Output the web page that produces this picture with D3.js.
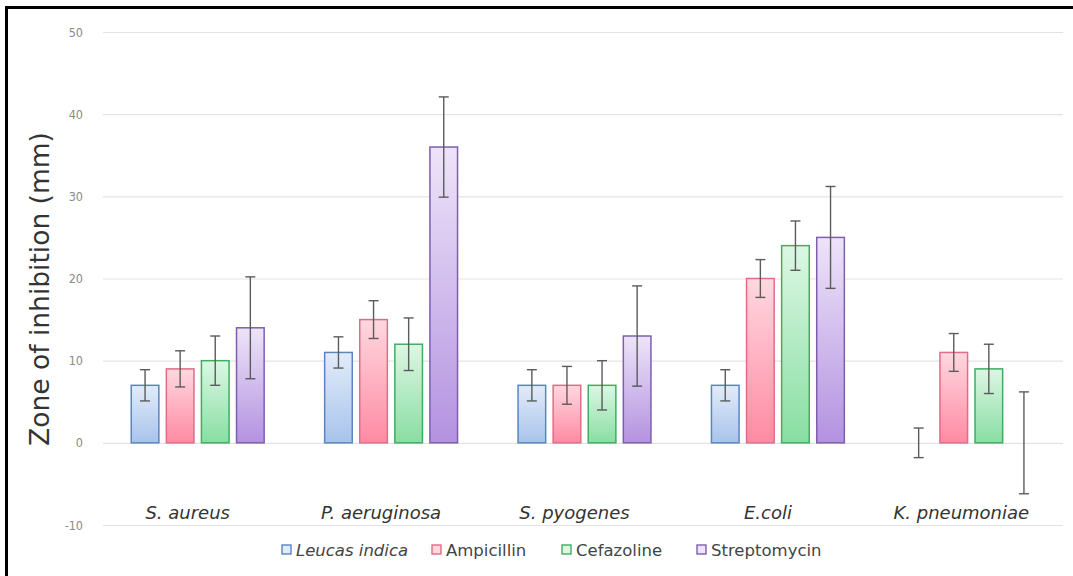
<!DOCTYPE html>
<html>
<head>
<meta charset="utf-8">
<script src="https://cdn.jsdelivr.net/npm/d3@7"></script>
<style>
  html, body { margin: 0; padding: 0; background: #fff; }
  svg { display: block; }
</style>
</head>
<body>
<svg id="chart" width="1073" height="576"></svg>
<script>
// Zone of inhibition by organism and treatment
const categories = ["S. aureus", "P. aeruginosa", "S. pyogenes", "E.coli", "K. pneumoniae"];
const seriesNames = ["Leucas indica", "Ampicillin", "Cefazoline", "Streptomycin"];
const leucasValues = [7, 11, 7, 7, 0];
const ampicillinValues = [9, 15, 7, 20, 11];
const cefazolineValues = [10, 12, 7, 24, 9];
const streptomycinValues = [14, 36, 13, 25, 0];
const leucasErrors = [1.9, 1.9, 1.9, 1.9, 1.8];
const ampicillinErrors = [2.2, 2.3, 2.3, 2.3, 2.3];
const cefazolineErrors = [3, 3.2, 3, 3, 3];
const streptomycinErrors = [6.2, 6.1, 6.1, 6.2, 6.2];
const yTicks = [-10, 0, 10, 20, 30, 40, 50];

const seriesValues = [leucasValues, ampicillinValues, cefazolineValues, streptomycinValues];
const seriesErrors = [leucasErrors, ampicillinErrors, cefazolineErrors, streptomycinErrors];

const fills = [
  { top: "#e2ecf9", bottom: "#a7c3ec", stroke: "#5a86c0" },
  { top: "#ffd8e0", bottom: "#ff8aa3", stroke: "#e26c87" },
  { top: "#dcf7e4", bottom: "#88dea2", stroke: "#3fae62" },
  { top: "#eee4f9", bottom: "#b392e0", stroke: "#7d5fae" }
];

const svg = d3.select("#chart");
const defs = svg.append("defs");
fills.forEach((f, i) => {
  const g = defs.append("linearGradient")
    .attr("id", "grad" + i).attr("x1", 0).attr("y1", 0).attr("x2", 0).attr("y2", 1);
  g.append("stop").attr("offset", "0%").attr("stop-color", f.top);
  g.append("stop").attr("offset", "100%").attr("stop-color", f.bottom);
});

// frame lines on the top and left
svg.append("line").attr("x1", 6).attr("x2", 1073).attr("y1", 7.5).attr("y2", 7.5)
  .attr("stroke", "#000").attr("stroke-width", 3);
svg.append("line").attr("x1", 6.5).attr("x2", 6.5).attr("y1", 6).attr("y2", 576)
  .attr("stroke", "#000").attr("stroke-width", 3);

const y = d3.scaleLinear().domain([-10, 50]).range([525, 32]);
const x0 = d3.scaleBand().domain(categories).range([101, 1068]).paddingInner(0.276).paddingOuter(0.138);
const x1 = d3.scaleBand().domain(seriesNames).range([0, x0.bandwidth()]).paddingInner(0.17).paddingOuter(0.08);

// gridlines and tick labels
const yAxis = d3.axisLeft(y).tickValues(yTicks).tickFormat(d => String(d))
  .tickSize(-(1063 - 103)).tickPadding(20);
const ga = svg.append("g").attr("transform", "translate(103,0)").call(yAxis);
ga.select(".domain").remove();
ga.selectAll(".tick line").attr("stroke", "#e3e3e3").attr("stroke-width", 1.2);
ga.selectAll(".tick text")
  .attr("fill", "#8a8a8a")
  .attr("font-family", "'Liberation Sans Narrow', 'DejaVu Sans Condensed', sans-serif")
  .attr("font-size", 12.5);

// axis title
svg.append("text")
  .attr("transform", "translate(49,289) rotate(-90)")
  .attr("text-anchor", "middle")
  .attr("font-family", "'DejaVu Sans', sans-serif")
  .attr("font-size", 26.5)
  .attr("fill", "#333")
  .text("Zone of inhibition (mm)");

// bars
const groups = svg.append("g").selectAll("g")
  .data(categories)
  .join("g")
  .attr("transform", d => `translate(${x0(d)},0)`);

seriesNames.forEach((name, si) => {
  groups.each(function(cat, ci) {
    const v = seriesValues[si][ci];
    const e = seriesErrors[si][ci];
    const g = d3.select(this);
    const bx = x1(name);
    const bw = x1.bandwidth();
    if (v !== 0) {
      g.append("rect")
        .attr("x", bx + 0.75)
        .attr("y", y(Math.max(v, 0)))
        .attr("width", bw - 1.5)
        .attr("height", Math.abs(y(v) - y(0)))
        .attr("fill", `url(#grad${si})`)
        .attr("stroke", fills[si].stroke)
        .attr("stroke-width", 1.5);
    }
    const cx = bx + bw / 2;
    const eg = g.append("g").attr("stroke", "#5b5b5b").attr("stroke-width", 1.4);
    eg.append("line").attr("x1", cx).attr("x2", cx).attr("y1", y(v + e)).attr("y2", y(v - e));
    eg.append("line").attr("x1", cx - 5).attr("x2", cx + 5).attr("y1", y(v + e)).attr("y2", y(v + e));
    eg.append("line").attr("x1", cx - 5).attr("x2", cx + 5).attr("y1", y(v - e)).attr("y2", y(v - e));
  });
});

// category labels
svg.append("g").selectAll("text")
  .data(categories)
  .join("text")
  .attr("x", d => x0(d) + x0.bandwidth() / 2 - 10)
  .attr("y", 519)
  .attr("text-anchor", "middle")
  .attr("font-family", "'DejaVu Sans', sans-serif")
  .attr("font-style", "italic")
  .attr("font-size", 18)
  .attr("fill", "#333")
  .text(d => d);

// legend
const legendX = [282, 432, 562, 697];
const legend = svg.append("g");
seriesNames.forEach((name, i) => {
  legend.append("rect")
    .attr("x", legendX[i]).attr("y", 545)
    .attr("width", 9).attr("height", 9)
    .attr("fill", fills[i].top)
    .attr("stroke", fills[i].stroke).attr("stroke-width", 1.4);
  legend.append("text")
    .attr("x", legendX[i] + 14).attr("y", 556)
    .attr("font-family", "'DejaVu Sans', sans-serif")
    .attr("font-size", 16.5)
    .attr("font-style", i === 0 ? "italic" : "normal")
    .attr("fill", "#444")
    .text(name);
});
</script>
</body>
</html>
